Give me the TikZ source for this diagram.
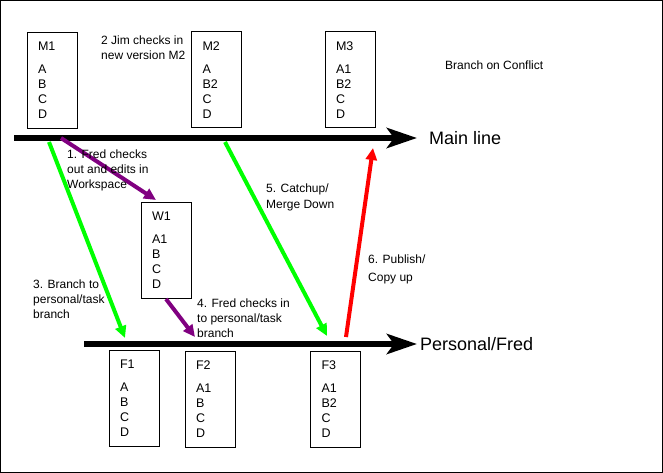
\documentclass[tikz,border=0pt]{standalone}
\usepackage{fontspec}
\setmainfont{Liberation Sans}
\usetikzlibrary{arrows.meta,positioning}
\definecolor{merge}{HTML}{00FF00}
\definecolor{work}{HTML}{800080}
\definecolor{publish}{HTML}{FF0000}
\tikzset{
  ver/.style={draw,line width=1pt,minimum width=50pt,minimum height=96pt,
    text width=28pt,inner xsep=11pt,inner ysep=0pt,align=left,
    font=\fontsize{12.5}{15}\selectfont},
  note/.style={inner sep=0pt,align=left,anchor=base west,
    font=\fontsize{12}{15}\selectfont},
  linelab/.style={inner sep=0pt,font=\fontsize{18}{20}\selectfont},
  trunk/.style={line width=6pt,-{Stealth[length=30pt,width=20pt,inset=7pt]}},
  flowg/.style={draw=merge,line width=4pt,-{Triangle[length=12pt,width=11pt]}},
  flowp/.style={flowg,draw=work},
  flowr/.style={flowg,draw=publish},
}
\begin{document}
\begin{tikzpicture}[x=1pt,y=-1pt]
  \useasboundingbox (0,0) rectangle (663,473);
  \draw[line width=1pt] (0.5,0.5) rectangle (662.5,472.5);
  % --- main line and personal line
  \coordinate (ms) at (14,138);
  \coordinate (me) at (417,138);
  \coordinate (ps) at (84,344);
  \coordinate (pe) at (417,344);
  \draw[trunk] (ms) -- (me);
  \draw[trunk] (ps) -- (pe);
  \node[linelab,right=12pt of me] (main) {Main line};
  \node[linelab,right=3pt of pe] (pers) {Personal/Fred};
  % --- versions
  \node[ver] (m1) at (52,80.5) {M1\\[8pt]A\\B\\C\\D};
  \node[ver] (m2) at (216.5,80) {M2\\[8pt]A\\B2\\C\\D};
  \node[ver] (m3) at (350,80) {M3\\[8pt]A1\\B2\\C\\D};
  \node[ver] (w1) at (166,250.5) {W1\\[8pt]A1\\B\\C\\D};
  \node[ver] (f1) at (134,398) {F1\\[8pt]A\\B\\C\\D};
  \node[ver] (f2) at (210,399) {F2\\[8pt]A1\\B\\C\\D};
  \node[ver] (f3) at (335.5,399) {F3\\[8pt]A1\\B2\\C\\D};
  % --- steps
  \coordinate (co) at (61,138);
  \coordinate (coend) at (156,200);
  \coordinate (br) at (49,142);
  \coordinate (brend) at (125,338);
  \coordinate (ci) at (195,337);
  \coordinate (cu) at (225,142);
  \coordinate (cuend) at (327,336);
  \coordinate (pb) at (346,337);
  \coordinate (pbend) at (373,148);
  \foreach \a/\b/\s in {co/coend/flowp,w1.south/ci/flowp,br/brend/flowg,
    cu/cuend/flowg,pb/pbend/flowr}
    \draw[\s] (\a) -- (\b);
  % labels sit on the baseline of their last line
  \node[note] (jim) at (101,60) {2 Jim checks in\\new version M2};
  \node[note] (l1) at (67,188) {1. Fred checks\\out and edits in\\Workspace};
  \node[note] (l3) at (33,318) {3. Branch to\\personal/task\\branch};
  \node[note] (l4) at (197,337) {4. Fred checks in\\to personal/task\\branch};
  \node[note,font=\fontsize{12}{16}\selectfont] (l5) at (266,208) {5. Catchup/\\Merge Down};
  \node[note,font=\fontsize{12}{18}\selectfont] (l6) at (368,281) {6. Publish/\\Copy up};
  \node[note] (title) at (445,70) {Branch on Conflict};
\end{tikzpicture}
\end{document}
